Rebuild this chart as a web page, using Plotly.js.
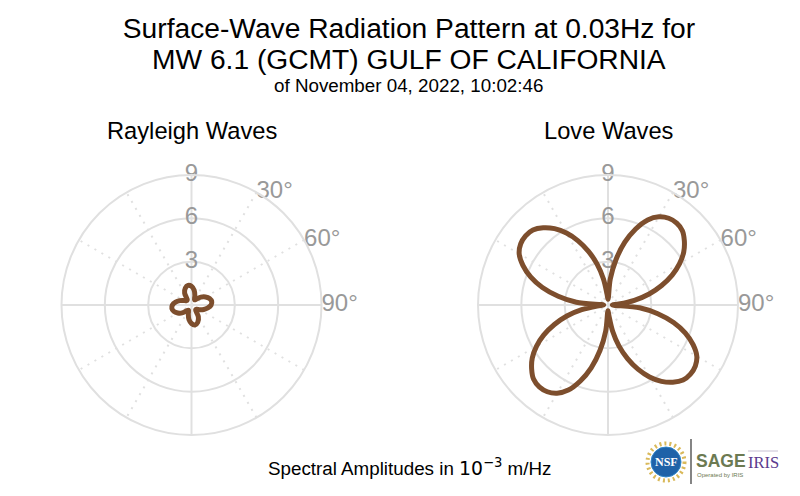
<!DOCTYPE html>
<html><head><meta charset="utf-8">
<script src="https://cdn.plot.ly/plotly-3.0.1.min.js"></script>
<style>html,body{margin:0;padding:0;background:#fff}#c{width:800px;height:496px}</style>
</head><body><div id="c"></div>
<script>
const thetaDeg = [0,10,20,30,40,50,60,70,80,90,100,110,120,130,140,150,160,170,
                  180,190,200,210,220,230,240,250,260,270,280,290,300,310,320,330,340,350,360];
const rayleighAmp = [1.30,1.05,0.68,0.42,0.52,0.85,1.12,1.33,1.42,1.36,1.15,0.90,0.65,0.46,0.44,0.95,1.27,1.40,
                     1.28,1.02,0.65,0.42,0.52,0.85,1.10,1.30,1.38,1.32,1.12,0.88,0.63,0.46,0.46,0.95,1.25,1.38,1.30];
const loveTheta = [0,5,10,15,20,25,30,35,40,45,50,55,60,65,70,75,80,85,
                   90,95,100,105,110,115,120,125,130,135,140,145,150,155,160,165,170,175,
                   180,185,190,195,200,205,210,215,220,225,230,235,240,245,250,255,260,265,
                   270,275,280,285,290,295,300,305,310,315,320,325,330,335,340,345,350,355,360];
const loveAmp = [0.4,1.8,3.2,4.5,5.6,6.5,7.05,7.33,7.40,7.28,6.90,6.40,5.72,4.9,3.95,2.95,1.85,0.75,
                 0.3,2.2,3.5,4.7,5.7,6.5,7.1,7.38,7.45,7.35,6.98,6.45,5.75,4.9,3.95,2.95,1.85,0.75,
                 0.4,1.8,3.2,4.5,5.6,6.5,7.05,7.33,7.40,7.28,6.90,6.40,5.72,4.9,3.95,2.95,1.85,0.75,
                 0.3,2.2,3.5,4.7,5.7,6.5,7.1,7.38,7.45,7.35,6.98,6.45,5.75,4.9,3.95,2.95,1.85,0.75,0.4];
const spokeTheta = [30,30,210,null,60,60,240,null,120,120,300,null,150,150,330];
const spokeR = [9,0,9,null,9,0,9,null,9,0,9,null,9,0,9];
const radialTicks = [3,6,9];
const radialLabels = ['3','6','9'];
const angleTicks = [30,60,90];
const angleLabels = ['30°','60°','90°'];
const titleLine1 = 'Surface-Wave Radiation Pattern at 0.03Hz for';
const titleLine2 = 'MW 6.1 (GCMT) GULF OF CALIFORNIA';
const subTitle = 'of November 04, 2022, 10:02:46';
const panelNames = ['Rayleigh Waves','Love Waves'];

const W = 800, H = 496, FONT = '"Liberation Sans", Arial, sans-serif';
const GRID = '#e0e0e0', LABEL = '#999999', BROWN = '#7d4e2d';
const xp = v => v / W, yp = v => 1 - v / H;

function panel(sub, t, r) {
  return [
    {type:'scatterpolar', subplot:sub, mode:'lines', theta:spokeTheta, r:spokeR, connectgaps:false,
     line:{color:GRID, width:2, dash:'2px,6px'}, hoverinfo:'skip', showlegend:false},
    {type:'scatterpolar', subplot:sub, mode:'text', theta:radialTicks.map(()=>0), r:radialTicks, text:radialLabels,
     textposition:'middle center', textfont:{family:FONT, size:24, color:LABEL}, cliponaxis:false, hoverinfo:'skip', showlegend:false},
    {type:'scatterpolar', subplot:sub, mode:'text', theta:angleTicks, r:angleTicks.map(()=>9), text:angleLabels,
     textposition:'middle right', textfont:{family:FONT, size:24, color:LABEL}, cliponaxis:false, hoverinfo:'skip', showlegend:false},
    {type:'scatterpolar', subplot:sub, mode:'lines', theta:t, r:r,
     line:{color:BROWN, width:5, shape:'spline', smoothing:1}, hoverinfo:'skip', showlegend:false}
  ];
}
function polar(x0, x1) {
  return {
    domain:{x:[xp(x0), xp(x1)], y:[yp(435), yp(175)]},
    bgcolor:'rgba(0,0,0,0)',
    radialaxis:{range:[0,9], tickvals:radialTicks, showticklabels:false, ticks:'', showline:false,
                gridcolor:GRID, gridwidth:2},
    angularaxis:{direction:'clockwise', rotation:90, tickvals:[0,90,180,270], showticklabels:false, ticks:'',
                 showline:true, linecolor:GRID, linewidth:2, gridcolor:GRID, gridwidth:2}
  };
}
const ann = (x,y,text,size,color,extra) => Object.assign({xref:'paper',yref:'paper',x:xp(x),y:yp(y),text,showarrow:false,
  xanchor:'center',yanchor:'middle',font:{family:FONT,size:size,color:color||'#000'}},extra||{});
const circ = (cx,cy,r,o) => Object.assign({type:'circle',xref:'paper',yref:'paper',x0:xp(cx-r),x1:xp(cx+r),y0:yp(cy+r),y1:yp(cy-r)},o);

const data = panel('polar', thetaDeg, rayleighAmp).concat(panel('polar2', loveTheta, loveAmp));
const layout = {
  width:W, height:H, margin:{l:0,r:0,t:0,b:0}, paper_bgcolor:'#fff', showlegend:false,
  title:{text:titleLine1, font:{family:FONT,size:28.2,color:'#000'}, x:xp(409), xanchor:'center', y:yp(28), yanchor:'middle'},
  polar:polar(61.5,321.5), polar2:polar(478,738),
  annotations:[
    ann(409,59,titleLine2,28.2),
    ann(408,85,subTitle,18.8),
    ann(192,131,panelNames[0],23.7),
    ann(608,131,panelNames[1],23.7),
    ann(410,467,'Spectral Amplitudes in <span style="font-family:DejaVu Sans">10<sup>−3</sup></span> m/Hz',18.8),
    ann(666,462,'NSF',11,'#fff',{font:{family:'"Liberation Serif", serif',size:12,color:'#fff',weight:700}}),
    ann(720.5,461,'SAGE',17.5,'#6c7a52',{font:{family:FONT,size:17.5,color:'#6c7a52',weight:700}}),
    ann(720,475,'Operated by IRIS',6,'#6c7a52'),
    ann(763.5,462,'IRIS',16.5,'#5b3a8e',{font:{family:'"Liberation Serif", serif',size:16.5,color:'#5b3a8e'}})
  ],
  shapes:[
    circ(666,462,18.5,{line:{color:'#d9b95a',width:4,dash:'2px,3px'}}),
    circ(666,462,15,{fillcolor:'#1f62a8',line:{color:'#2f86c9',width:1}}),
    {type:'line',xref:'paper',yref:'paper',x0:xp(691),x1:xp(691),y0:yp(439),y1:yp(484),line:{color:'#333',width:1.2}},
    {type:'line',xref:'paper',yref:'paper',x0:xp(748),x1:xp(778),y0:yp(451),y1:yp(451),line:{color:'#b9b0c8',width:0.8}}
  ]
};
Plotly.newPlot('c', data, layout, {displayModeBar:false, staticPlot:true});
</script></body></html>
